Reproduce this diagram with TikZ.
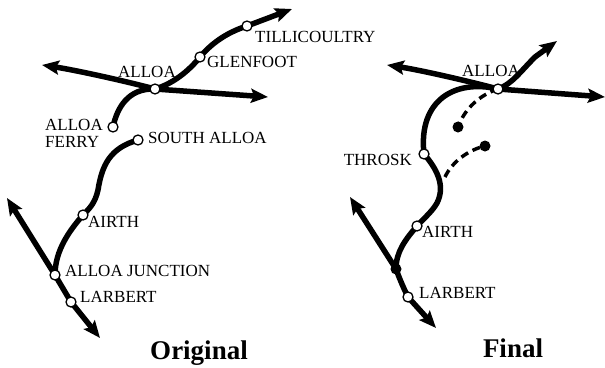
\documentclass[tikz,border=0pt]{standalone}
\usepackage{fontspec}
\setmainfont{Liberation Serif}
\usetikzlibrary{arrows.meta,backgrounds}

\begin{document}
\begin{tikzpicture}[x=1pt,y=-1pt,>={Stealth[length=17pt,width=14pt,inset=3pt]},
	stn/.style={circle,draw,fill=white,line width=1.3pt,minimum size=10pt,inner sep=0pt},
	jct/.style={circle,fill=black,minimum size=11pt,inner sep=0pt},
	rail/.style={line width=5.5pt,line join=round},
	plan/.style={line width=3.5pt,dash pattern=on 8pt off 5pt},
	lbl/.style={font=\fontsize{17}{16.3}\selectfont,inner sep=0pt},
	ttl/.style={font=\fontsize{27}{30}\selectfont\bfseries,inner sep=0pt,anchor=base}]
	\useasboundingbox (0,0) rectangle (605,367);
	% original
	\node[stn] (s_alloa) at (155,89) {};
	\node[stn] (s_glen) at (200,57) {};
	\node[stn] (s_till) at (247,26) {};
	\node[stn] (s_ferry) at (113,127) {};
	\node[stn] (s_south) at (138,140) {};
	\node[stn] (s_airth) at (83,215) {};
	\node[stn] (s_jct) at (55,275) {};
	\node[stn] (s_larb) at (71,302) {};
	\coordinate (w_o) at (42,65);
	\coordinate (e_o) at (268,97);
	\coordinate (ne_o) at (292,9);
	\coordinate (nw_o) at (7,198);
	\coordinate (se_o) at (100,338);
	\node[lbl] (l_alloa) at (147,72) {ALLOA};
	\node[lbl,anchor=west] (l_glen) at (207,62) {GLENFOOT};
	\node[lbl,anchor=west] (l_till) at (255,37) {TILLICOULTRY};
	\node[lbl,anchor=west,align=left] (l_ferry) at (45,133.5) {ALLOA\\FERRY};
	\node[lbl,anchor=west] (l_south) at (148,138) {SOUTH ALLOA};
	\node[lbl,anchor=west] (l_airth) at (88,222) {AIRTH};
	\node[lbl,anchor=west] (l_jct) at (65,271) {ALLOA JUNCTION};
	\node[lbl,anchor=west] (l_larb) at (80,297) {LARBERT};
	\node[ttl] (t_orig) at (199,359) {Original};
	% final
	\node[stn] (f_alloa) at (498,89) {};
	\node[stn] (f_throsk) at (424,154) {};
	\node[stn] (f_airth) at (417,226) {};
	\node[stn] (f_larb) at (408,297) {};
	\node[jct] (f_jct) at (396,269) {};
	\node[jct] (f_end1) at (458,127) {};
	\node[jct] (f_end2) at (485,146) {};
	\coordinate (w_f) at (387,65);
	\coordinate (e_f) at (605,97);
	\coordinate (ne_f) at (557,41);
	\coordinate (nw_f) at (350,197);
	\coordinate (se_f) at (436,328);
	\coordinate (br_f) at (445,177);
	\node[lbl] (m_alloa) at (491,71) {ALLOA};
	\node[lbl,anchor=east] (m_throsk) at (412,160) {THROSK};
	\node[lbl,anchor=west] (m_airth) at (422,232) {AIRTH};
	\node[lbl,anchor=west] (m_larb) at (419,293) {LARBERT};
	\node[ttl] (t_final) at (513,357) {Final};
	\begin{scope}[on background layer]
		\draw[rail,<->] (w_o) .. controls (75,70) and (125,81) .. (s_alloa.center) -- (e_o);
		\draw[rail,->] (s_alloa.center) .. controls (172,84) and (188,72) .. (s_glen.center)
			.. controls (210,45) and (225,33) .. (s_till.center) -- (ne_o);
		\draw[rail] (s_ferry.center) .. controls (117,108) and (128,88) .. (s_alloa.center);
		\draw[rail] (s_south.center) .. controls (110,148) and (102,165) .. (98,190)
			.. controls (95,203) and (90,208) .. (s_airth.center)
			.. controls (70,230) and (55,250) .. (s_jct.center);
		\draw[rail,<->] (nw_o) -- (s_jct.center) -- (s_larb.center) -- (se_o);
		\draw[rail,<->] (w_f) .. controls (420,70) and (468,81) .. (f_alloa.center) -- (e_f);
		\draw[rail,->] (f_alloa.center) .. controls (512,84) and (520,72) .. (535,57) -- (ne_f);
		\draw[rail] (f_alloa.center) .. controls (455,79) and (418,100) .. (f_throsk.center)
			.. controls (436,168) and (446,185) .. (437,203)
			.. controls (432,212) and (422,220) .. (f_airth.center)
			.. controls (405,240) and (396,252) .. (f_jct.center);
		\draw[rail,<->] (nw_f) -- (f_jct.center) .. controls (400,280) and (404,289) .. (f_larb.center) -- (se_f);
		\draw[plan] (f_alloa.center) .. controls (480,95) and (465,108) .. (f_end1.center);
		\draw[plan] (br_f) .. controls (452,162) and (468,150) .. (f_end2.center);
	\end{scope}
\end{tikzpicture}
\end{document}
